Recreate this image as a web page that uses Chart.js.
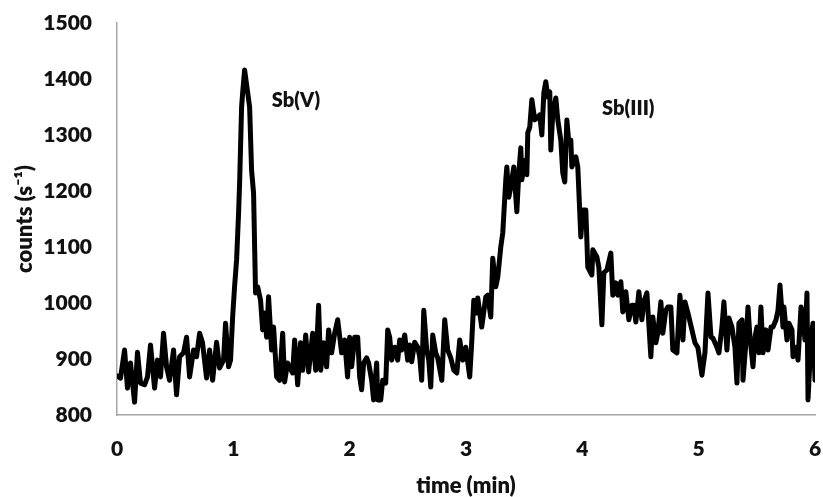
<!DOCTYPE html>
<html>
<head>
<meta charset="utf-8">
<script src="https://cdn.jsdelivr.net/npm/chart.js@4/dist/chart.umd.min.js"></script>
<style>
  html, body { margin: 0; padding: 0; background: #fff; }
  #wrap { width: 823px; height: 497px; }
</style>
</head>
<body>
<div id="wrap"><canvas id="mainChart"></canvas></div>
<script>
// time (min)
const times = [
  0.00, 0.03, 0.065, 0.09, 0.116, 0.151, 0.176, 0.202, 0.237, 0.262, 0.288, 0.323, 0.348, 0.374, 0.40,
  0.426, 0.452, 0.486, 0.512, 0.538, 0.572, 0.598, 0.624, 0.658, 0.684, 0.71, 0.735, 0.77, 0.796, 0.822,
  0.856, 0.882, 0.916, 0.933, 0.959, 0.976, 0.994, 1.011, 1.028, 1.045, 1.054, 1.071, 1.080, 1.097, 1.114,
  1.14, 1.157, 1.174, 1.191, 1.209, 1.234, 1.252, 1.269, 1.286, 1.303, 1.329, 1.346, 1.372, 1.398, 1.424,
  1.441, 1.466, 1.51, 1.527, 1.553, 1.578, 1.596, 1.622, 1.647, 1.682, 1.708, 1.733, 1.751, 1.776, 1.802,
  1.819, 1.845, 1.871, 1.897, 1.931, 1.957, 1.982, 2.0, 2.017, 2.043, 2.069, 2.086, 2.103, 2.12, 2.146,
  2.163, 2.189, 2.206, 2.232, 2.241, 2.267, 2.284, 2.31, 2.327, 2.344, 2.361, 2.387, 2.413, 2.43, 2.447,
  2.473, 2.499, 2.516, 2.533, 2.559, 2.585, 2.602, 2.619, 2.637, 2.662, 2.68, 2.697, 2.714, 2.74, 2.757,
  2.792, 2.817, 2.843, 2.869, 2.895, 2.921, 2.946, 2.972, 2.998, 3.032, 3.049, 3.067, 3.092, 3.101, 3.135,
  3.170, 3.187, 3.213, 3.230, 3.256, 3.273, 3.299, 3.316, 3.342, 3.351, 3.368, 3.385, 3.411, 3.437, 3.454,
  3.471, 3.480, 3.505, 3.523, 3.531, 3.548, 3.566, 3.591, 3.608, 3.634, 3.652, 3.669, 3.686, 3.703, 3.720,
  3.729, 3.746, 3.772, 3.789, 3.815, 3.832, 3.849, 3.867, 3.884, 3.901, 3.910, 3.944, 3.961, 3.987, 4.004,
  4.030, 4.047, 4.082, 4.090, 4.125, 4.142, 4.168, 4.185, 4.211, 4.245, 4.262, 4.288, 4.305, 4.331, 4.348,
  4.374, 4.40, 4.426, 4.443, 4.460, 4.486, 4.512, 4.529, 4.555, 4.589, 4.606, 4.632, 4.649, 4.675, 4.692,
  4.718, 4.735, 4.761, 4.778, 4.813, 4.839, 4.865, 4.882, 4.908, 4.942, 4.968, 4.994, 5.028, 5.054, 5.080,
  5.106, 5.123, 5.157, 5.174, 5.200, 5.217, 5.243, 5.260, 5.286, 5.312, 5.329, 5.346, 5.372, 5.381, 5.406,
  5.424, 5.441, 5.467, 5.484, 5.501, 5.518, 5.535, 5.553, 5.578, 5.596, 5.622, 5.639, 5.665, 5.682, 5.699,
  5.725, 5.733, 5.759, 5.776, 5.802, 5.811, 5.836, 5.854, 5.88, 5.897, 5.914, 5.931, 5.940, 5.966, 5.983,
  6.0
];

// counts (s-1)
const counts = [
  870, 866, 916, 848, 893, 823, 912, 857, 854, 868, 925, 848, 898, 868, 946,
  886, 862, 916, 836, 904, 911, 939, 868, 916, 904, 946, 929, 866, 916, 862,
  930, 884, 898, 964, 886, 898, 975, 1030, 1077, 1160, 1214, 1350, 1375, 1416, 1390,
  1350, 1237, 1196, 1018, 1029, 1005, 952, 982, 939, 1011, 916, 957, 868, 862, 946,
  859, 893, 875, 934, 854, 929, 880, 943, 877, 946, 880, 996, 880, 929, 886,
  952, 911, 946, 970, 911, 934, 868, 939, 886, 939, 939, 868, 845, 893, 902,
  893, 862, 827, 893, 827, 827, 862, 857, 952, 939, 898, 921, 898, 934, 916,
  943, 898, 925, 895, 930, 921, 904, 862, 987, 916, 898, 850, 943, 911, 902,
  862, 970, 916, 902, 880, 875, 934, 898, 921, 868, 929, 1005, 982, 1009, 957,
  1011, 1014, 975, 1080, 1029, 1046, 1100, 1125, 1220, 1243, 1189, 1207, 1243, 1163, 1232,
  1277, 1220, 1255, 1229, 1304, 1314, 1363, 1327, 1330, 1336, 1300, 1375, 1395, 1368, 1377,
  1273, 1339, 1366, 1327, 1291, 1232, 1216, 1327, 1286, 1291, 1243, 1261, 1243, 1118, 1166,
  1166, 1064, 1050, 1095, 1082, 1064, 961, 1054, 1059, 1089, 1014, 1036, 1014, 1038, 984,
  1020, 970, 996, 996, 966, 1020, 970, 1002, 1018, 904, 975, 929, 946, 1002, 946,
  987, 993, 993, 916, 911, 1014, 934, 1002, 982, 952, 929, 920, 871, 911, 1018,
  939, 937, 921, 911, 957, 1002, 916, 973, 957, 921, 857, 964, 970, 862, 929,
  993, 939, 886, 939, 957, 911, 993, 911, 952, 916, 957, 957, 970, 987, 1032,
  957, 993, 934, 964, 952, 904, 921, 898, 993, 975, 934, 1018, 827, 939, 964,
  862
];

const xTicks = [0, 1, 2, 3, 4, 5, 6];
const yTicks = [800, 900, 1000, 1100, 1200, 1300, 1400, 1500];

// peak labels: [text, time, counts]
const peakLabels = [
  ['Sb(V)', 1.33, 1361],
  ['Sb(III)', 4.17, 1348]
];

Chart.defaults.font.family = 'Lato';
Chart.defaults.color = '#111';

const peakLabelPlugin = {
  id: 'peakLabels',
  afterDatasetsDraw(chart) {
    const { ctx, scales } = chart;
    ctx.save();
    ctx.font = '800 20px Lato';
    ctx.fillStyle = '#111';
    ctx.textAlign = 'left';
    ctx.textBaseline = 'middle';
    peakLabels.forEach(([txt, t, c]) => {
      ctx.fillText(txt, scales.x.getPixelForValue(t), scales.y.getPixelForValue(c));
    });
    ctx.restore();
  }
};

const points = times.map((t, i) => ({ x: t, y: counts[i] }));

new Chart(document.getElementById('mainChart').getContext('2d'), {
  type: 'line',
  data: {
    datasets: [{
      data: points,
      borderColor: '#000',
      borderWidth: 5,
      borderJoinStyle: 'round',
      borderCapStyle: 'round',
      pointRadius: 0,
      tension: 0,
      fill: false
    }]
  },
  options: {
    responsive: true,
    maintainAspectRatio: false,
    animation: false,
    layout: { padding: { top: 23, right: 8, bottom: 0, left: 0 } },
    plugins: { legend: { display: false }, tooltip: { enabled: false } },
    scales: {
      x: {
        type: 'linear',
        min: 0, max: 6,
        afterBuildTicks: s => { s.ticks = xTicks.map(v => ({ value: v })); },
        afterFit: s => { s.height = 82; s.paddingLeft = 0; s.paddingRight = 0; },
        grid: { drawOnChartArea: false, drawTicks: false },
        border: { color: '#a6a6a6', width: 1.5 },
        ticks: { padding: 22, font: { size: 21, weight: '800' }, maxRotation: 0, callback: v => String(v) },
        title: { display: true, text: 'time (min)', font: { size: 22, weight: '800', lineHeight: 1 }, padding: { top: 0, bottom: 0 } }
      },
      y: {
        min: 800, max: 1500,
        afterBuildTicks: s => { s.ticks = yTicks.map(v => ({ value: v })); },
        afterFit: s => { s.width = 117; s.paddingTop = 0; s.paddingBottom = 0; },
        grid: { drawOnChartArea: false, drawTicks: false },
        border: { color: '#a6a6a6', width: 1.5 },
        ticks: { padding: 25, font: { size: 21, weight: '800' }, callback: v => String(v) },
        title: { display: true, text: 'counts (s⁻¹)', font: { size: 22, weight: '800', lineHeight: 1 }, padding: { top: 14, bottom: 0 } }
      }
    }
  },
  plugins: [peakLabelPlugin]
});
</script>
</body>
</html>
